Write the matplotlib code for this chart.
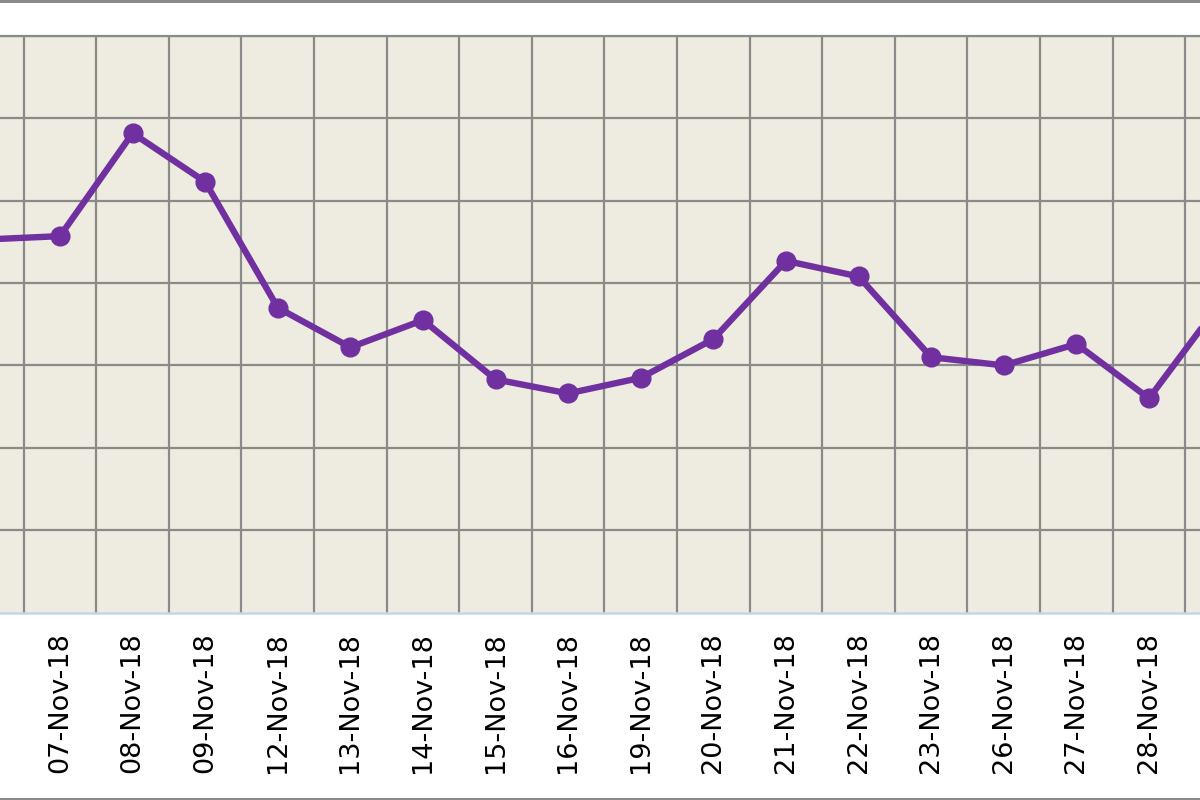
import matplotlib
matplotlib.use("Agg")
import matplotlib.pyplot as plt
import matplotlib.transforms as mtransforms
from matplotlib.patches import Rectangle

# ---- data (values read in grid units) ----
dates = ["06-Nov-18", "07-Nov-18", "08-Nov-18", "09-Nov-18", "12-Nov-18", "13-Nov-18",
         "14-Nov-18", "15-Nov-18", "16-Nov-18", "19-Nov-18", "20-Nov-18", "21-Nov-18",
         "22-Nov-18", "23-Nov-18", "26-Nov-18", "27-Nov-18", "28-Nov-18", "29-Nov-18"]
values = [4.53, 4.57, 5.82, 5.23, 3.70, 3.22, 3.55, 2.83, 2.66, 2.85, 3.32, 4.27,
          4.08, 3.10, 3.00, 3.26, 2.60, 3.78]
y_gridlines = [0, 1, 2, 3, 4, 5, 6, 7]

W, H = 1200, 800
fig = plt.figure(figsize=(12, 8), dpi=100)
fig.patch.set_facecolor("white")

# plot area geometry in pixels (partly outside the figure, as in the cropped reference)
step = 72.6
x_first = 60 - step              # centre of first category
left_px = x_first - step / 2
right_px = left_px + step * len(dates)
top_px, bottom_px = 36, 612.5
ax = fig.add_axes([left_px / W, (H - bottom_px) / H,
                   (right_px - left_px) / W, (bottom_px - top_px) / H])
ax.set_facecolor("#EEEBE0")

n = len(dates)
ax.set_xlim(-0.5, n - 0.5)
ax.set_ylim(y_gridlines[0], y_gridlines[-1])

grid_c = "#8A8A8A"
ax.set_yticks(y_gridlines)
ax.set_xticks(range(n))
ax.grid(False)
for yv in y_gridlines[1:]:
    ax.axhline(yv, color=grid_c, lw=1.6, zorder=1)
for xv in [i + 0.5 for i in range(n - 1)]:
    ax.axvline(xv, color=grid_c, lw=1.6, zorder=1)

ax.set_xticklabels(dates, rotation=90, fontsize=19.5, family="DejaVu Sans",
                   color="black", va="top", ha="center")
ax.tick_params(axis="x", which="both", length=0, pad=14)
ax.tick_params(axis="y", which="both", length=0, labelleft=False)

lbls = ax.get_xticklabels()
lbls[0].set_color("#45C8F0")
lbls[0].set_transform(lbls[0].get_transform() +
                      mtransforms.ScaledTranslation(4 / 100, 0, fig.dpi_scale_trans))

for s in ["left", "right"]:
    ax.spines[s].set_visible(False)
ax.spines["top"].set_color(grid_c)
ax.spines["top"].set_linewidth(1.6)
ax.spines["bottom"].set_color("#C5D4EE")
ax.spines["bottom"].set_linewidth(1.8)

ax.plot(range(n), values, color="#7030A0", lw=4.6, marker="o", markersize=13.5,
        markerfacecolor="#7030A0", markeredgecolor="#7030A0", zorder=3,
        solid_capstyle="round", solid_joinstyle="round", clip_on=True)

# outer frame lines of the original chart (top and bottom)
fig.patches.append(Rectangle((0, 1 - 2.5 / H), 1, 2.5 / H, transform=fig.transFigure,
                             facecolor="#8A8A8A", edgecolor="none"))
fig.patches.append(Rectangle((0, 0), 1, 2.5 / H, transform=fig.transFigure,
                             facecolor="#8A8A8A", edgecolor="none"))

fig.savefig("out.png", dpi=100)
